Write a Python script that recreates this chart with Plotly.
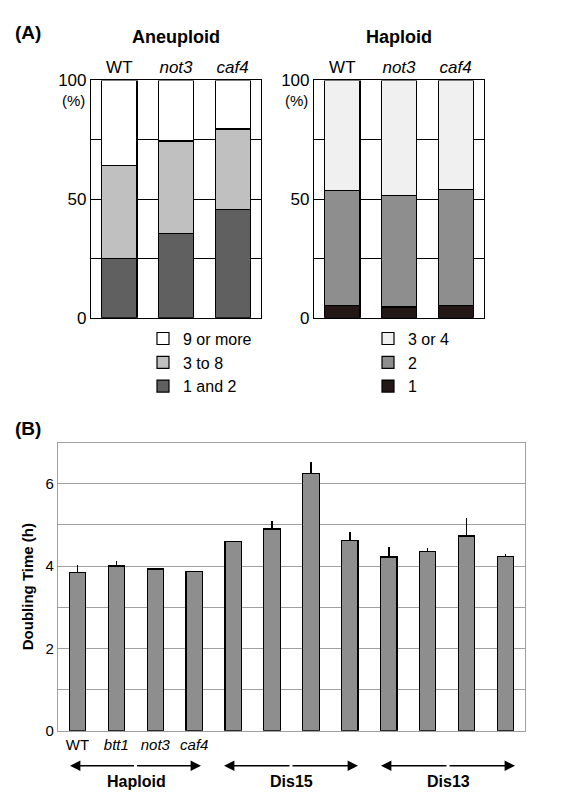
import plotly.graph_objects as go

strains = ["WT", "not3", "caf4"]
strain_labels = ["WT", "<i>not3</i>", "<i>caf4</i>"]
aneu_1_2 = [25, 35.5, 45.5]
aneu_3_8 = [39, 39, 34]
aneu_9 = [36, 25.5, 20.5]
hap_1 = [5, 4.5, 5]
hap_2 = [48.5, 47, 49]
hap_3_4 = [46.5, 48.5, 46]

b_cats = ["WT", "btt1", "not3", "caf4", "D15a", "D15b", "D15c", "D15d", "D13a", "D13b", "D13c", "D13d"]
b_ticks = ["WT", "<i>btt1</i>", "<i>not3</i>", "<i>caf4</i>", "", "", "", "", "", "", "", ""]
doubling = [3.85, 4.0, 3.93, 3.87, 4.6, 4.9, 6.25, 4.62, 4.22, 4.35, 4.73, 4.23]
errors = [0.17, 0.12, 0, 0, 0, 0.2, 0.27, 0.2, 0.25, 0.1, 0.45, 0.07]

F = "Liberation Sans, Arial, sans-serif"
W, H = 567, 800
def px(x): return x / W
def py(y): return 1 - y / H

fig = go.Figure()
line = dict(color="black", width=1.2)
for name, vals, col in [("1 and 2", aneu_1_2, "#606060"), ("3 to 8", aneu_3_8, "#c0c0c0"), ("9 or more", aneu_9, "#ffffff")]:
    fig.add_trace(go.Bar(x=strains, y=vals, name=name, marker=dict(color=col, line=line),
                         width=0.62, xaxis="x", yaxis="y", legend="legend"))
for name, vals, col in [("1", hap_1, "#231815"), ("2", hap_2, "#8e8e8e"), ("3 or 4", hap_3_4, "#f0f0f0")]:
    fig.add_trace(go.Bar(x=strains, y=vals, name=name, marker=dict(color=col, line=line),
                         width=0.62, xaxis="x2", yaxis="y2", legend="legend2"))
fig.add_trace(go.Bar(x=b_cats, y=doubling, marker=dict(color="#8e8e8e", line=line), width=0.42,
                     error_y=dict(type="data", array=errors, symmetric=False, arrayminus=[0]*12,
                                  color="black", thickness=1.5, width=0),
                     xaxis="x3", yaxis="y3", showlegend=False))

ax_common = dict(showline=True, mirror=True, linecolor="black", linewidth=1.2)
lay = dict(
    width=W, height=H, margin=dict(l=0, r=0, t=0, b=0), barmode="stack",
    plot_bgcolor="white", paper_bgcolor="white", font=dict(family=F, color="black"),
    xaxis=dict(domain=[px(83), px(253)], side="top", tickvals=strains, ticktext=strain_labels,
               anchor="y", ticks="", tickfont=dict(size=17), **ax_common),
    yaxis=dict(domain=[py(308), py(65)], range=[0, 100], tickvals=[0, 25, 50, 75, 100], ticktext=["0", "", "50", "", "100"],
               showgrid=True, gridcolor="black", gridwidth=1, anchor="x", ticks="", tickfont=dict(size=17), **ax_common),
    xaxis2=dict(domain=[px(306), px(476)], side="top", tickvals=strains, ticktext=strain_labels,
                anchor="y2", ticks="", tickfont=dict(size=17), **ax_common),
    yaxis2=dict(domain=[py(308), py(65)], range=[0, 100], tickvals=[0, 25, 50, 75, 100], ticktext=["0", "", "50", "", "100"],
                showgrid=True, gridcolor="black", gridwidth=1, anchor="x2", ticks="", tickfont=dict(size=17), **ax_common),
    xaxis3=dict(domain=[px(50), px(517)], tickvals=b_cats, ticktext=b_ticks, anchor="y3", ticks="",
                tickfont=dict(size=15), showline=True, mirror=True, linecolor="#a0a0a0", linewidth=1.2),
    yaxis3=dict(domain=[py(731), py(436)], range=[0, 7], tickvals=[0, 1, 2, 3, 4, 5, 6, 7], ticktext=["0", "", "2", "", "4", "", "6", ""],
                showgrid=True, gridcolor="#a0a0a0", gridwidth=1.2, anchor="x3", ticks="", tickfont=dict(size=15),
                title=dict(text="<b>Doubling Time (h)</b>", font=dict(size=15), standoff=8),
                showline=True, mirror=True, linecolor="#a0a0a0", linewidth=1.2),
    legend=dict(x=px(135), y=py(312), xanchor="left", yanchor="top", traceorder="reversed",
                font=dict(size=16), bgcolor="rgba(0,0,0,0)", tracegroupgap=0, itemwidth=30),
    legend2=dict(x=px(360), y=py(312), xanchor="left", yanchor="top", traceorder="reversed",
                 font=dict(size=16), bgcolor="rgba(0,0,0,0)", tracegroupgap=0, itemwidth=30),
)
fig.update_layout(**lay)

ann = [
    dict(text="<b>(A)</b>", x=px(5), y=py(16), size=19, xa="left"),
    dict(text="<b>(B)</b>", x=px(5), y=py(422), size=19, xa="left"),
    dict(text="<b>Aneuploid</b>", x=px(168), y=py(20), size=18, xa="center"),
    dict(text="<b>Haploid</b>", x=px(391), y=py(20), size=18, xa="center"),
    dict(text="(%)", x=px(79), y=py(86), size=15, xa="right"),
    dict(text="(%)", x=px(302), y=py(86), size=15, xa="right"),
    dict(text="<b>Haploid</b>", x=px(128), y=py(783), size=16, xa="center"),
    dict(text="<b>Dis15</b>", x=px(283), y=py(783), size=16, xa="center"),
    dict(text="<b>Dis13</b>", x=px(440), y=py(783), size=16, xa="center"),
]
for a in ann:
    fig.add_annotation(text=a["text"], x=a["x"], y=a["y"], xref="paper", yref="paper", showarrow=False,
                       xanchor=a["xa"], yanchor="middle", font=dict(size=a["size"], family=F))
for x0, x1 in [(62, 193), (216, 350), (373, 507)]:
    xm = (x0 + x1) / 2
    for xe in (x0, x1):
        fig.add_annotation(x=px(xe), y=py(767), ax=xm - xe, ay=0, xref="paper", yref="paper",
                           axref="pixel", ayref="pixel", text="", showarrow=True, arrowhead=2,
                           arrowsize=1.3, arrowwidth=1.6, arrowcolor="black")
fig.write_html("out.html")
